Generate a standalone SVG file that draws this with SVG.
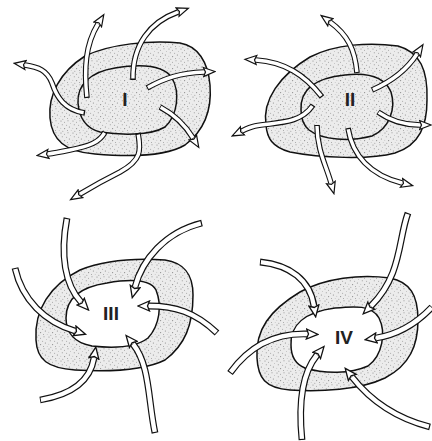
<svg xmlns="http://www.w3.org/2000/svg" width="432" height="441" viewBox="0 0 432 441">
<style>
.bg{fill:#fff}
.blob{fill:url(#st);stroke:#111;stroke-width:1.5}
.hole{fill:#fff;stroke:#111;stroke-width:1.5}
.a{fill:none;stroke:#111;stroke-width:5.6;stroke-linecap:butt}
.b{fill:none;stroke:#fff;stroke-width:3.4;stroke-linecap:butt;stroke-dasharray:0 1.6 98.4;marker-end:url(#h)}
.a2{fill:none;stroke:#111;stroke-width:6.8;stroke-linecap:butt}
.b2{fill:none;stroke:#fff;stroke-width:4.4;stroke-linecap:butt;stroke-dasharray:0 1.2 98.8;marker-end:url(#h2)}
.lbl{font-family:"Liberation Sans Narrow","Liberation Sans",Arial,sans-serif;font-weight:bold;font-size:19px;fill:#222;text-anchor:middle}
</style>
<defs>
<pattern id="st" width="12" height="12" patternUnits="userSpaceOnUse">
<rect width="12" height="12" fill="#ececec"/>
<circle cx="1" cy="1" r="0.6" fill="#8a8a8a"/>
<circle cx="4.5" cy="2.2" r="0.5" fill="#999"/>
<circle cx="8" cy="0.8" r="0.55" fill="#8f8f8f"/>
<circle cx="10.5" cy="3.5" r="0.45" fill="#a0a0a0"/>
<circle cx="2.3" cy="4.8" r="0.55" fill="#8f8f8f"/>
<circle cx="6.6" cy="5.2" r="0.5" fill="#999"/>
<circle cx="9.4" cy="7" r="0.6" fill="#888"/>
<circle cx="0.8" cy="8.2" r="0.45" fill="#a5a5a5"/>
<circle cx="4.6" cy="8.6" r="0.6" fill="#8a8a8a"/>
<circle cx="7.5" cy="10.5" r="0.5" fill="#999"/>
<circle cx="11.2" cy="10.4" r="0.45" fill="#a0a0a0"/>
<circle cx="2.8" cy="11.2" r="0.5" fill="#949494"/>
</pattern>
<marker id="h" markerUnits="userSpaceOnUse" viewBox="0 0 14 12" markerWidth="14" markerHeight="12" refX="1.5" refY="6" orient="auto">
<polygon points="1,1.5 12.5,6 1,10.5 3,6" fill="#fff" stroke="#111" stroke-width="1.2" stroke-linejoin="miter"/>
</marker>
<marker id="h2" markerUnits="userSpaceOnUse" viewBox="0 0 14 12" markerWidth="14" markerHeight="12" refX="1.5" refY="6" orient="auto">
<polygon points="1,1 12.5,6 1,11 3,6" fill="#fff" stroke="#111" stroke-width="1.3" stroke-linejoin="miter"/>
</marker>
</defs>
<rect class="bg" width="432" height="441"/>

<g id="panel-I">
<path class="blob" d="M50,118 C48,95 60,72 85,56 C110,44 150,40 180,43 C198,46 208,62 210,85 C212,110 205,130 185,145 C165,157 130,157 95,154 C65,152 52,140 50,118 Z"/>
<path class="blob" d="M78,103 C77,85 90,72 115,68 C140,64 163,64 172,78 C180,92 178,115 165,127 C150,136 120,135 100,132 C85,128 79,116 78,103 Z"/>
<text class="lbl" x="125" y="106">I</text>
</g>
<g id="panel-II">
<path class="blob" d="M266,125 C262,100 280,75 310,57 C335,44 370,42 398,46 C420,52 428,70 427,100 C427,125 420,145 395,153 C370,160 320,158 290,152 C272,147 267,138 266,125 Z"/>
<path class="blob" d="M301,110 C300,90 315,78 345,75 C370,72 385,78 391,92 C396,108 390,128 372,136 C350,142 322,140 309,130 C302,124 301,117 301,110 Z"/>
<text class="lbl" x="350" y="106">II</text>
</g>
<g id="panel-III">
<path class="blob" d="M36,340 C34,310 50,285 80,270 C105,260 135,258 165,260 C185,263 193,275 193,295 C193,325 185,345 165,360 C145,370 110,372 75,370 C48,368 37,360 36,340 Z"/>
<path class="hole" d="M66,318 C66,298 80,287 107,283 C130,279 150,279 156,290 C162,305 160,325 148,338 C135,348 110,348 92,346 C75,343 66,333 66,318 Z"/>
<text class="lbl" x="111" y="320">III</text>
</g>
<g id="panel-IV">
<path class="blob" d="M257,358 C255,330 270,310 300,292 C325,278 360,274 390,278 C410,282 418,295 418,320 C418,345 410,365 385,378 C360,390 320,392 290,390 C265,388 258,378 257,358 Z"/>
<path class="hole" d="M291,345 C290,325 305,312 335,308 C355,306 372,305 379,318 C386,332 383,355 368,366 C350,374 325,374 305,368 C295,364 291,355 291,345 Z"/>
<text class="lbl" x="344" y="344">IV</text>
</g>

<g id="connectors">
<!-- panel I: outward -->
<path class="a" d="M87,98 C84,70 85,45 98,24"/><path class="b" pathLength="100" d="M87,98 C84,70 85,45 98,24"/>
<path class="a" d="M133,80 C132,45 150,22 178,12"/><path class="b" pathLength="100" d="M133,80 C132,45 150,22 178,12"/>
<path class="a" d="M147,88 C165,78 180,73 204,72"/><path class="b" pathLength="100" d="M147,88 C165,78 180,73 204,72"/>
<path class="a" d="M160,107 C175,115 185,125 193,138"/><path class="b" pathLength="100" d="M160,107 C175,115 185,125 193,138"/>
<path class="a" d="M138,133 C141,150 142,160 120,172 C100,182 90,188 80,194"/><path class="b" pathLength="100" d="M138,133 C141,150 142,160 120,172 C100,182 90,188 80,194"/>
<path class="a" d="M105,132 C100,142 90,146 70,150 C60,152 55,153 48,154"/><path class="b" pathLength="100" d="M105,132 C100,142 90,146 70,150 C60,152 55,153 48,154"/>
<path class="a" d="M85,113 C65,110 57,98 52,83 C47,70 38,67 25,65"/><path class="b" pathLength="100" d="M85,113 C65,110 57,98 52,83 C47,70 38,67 25,65"/>
<!-- panel II: outward -->
<path class="a" d="M357,73 C355,50 348,35 330,22"/><path class="b" pathLength="100" d="M357,73 C355,50 348,35 330,22"/>
<path class="a" d="M372,90 C395,80 408,68 417,54"/><path class="b" pathLength="100" d="M372,90 C395,80 408,68 417,54"/>
<path class="a" d="M378,112 C392,122 405,125 420,125"/><path class="b" pathLength="100" d="M378,112 C392,122 405,125 420,125"/>
<path class="a" d="M348,128 C352,155 370,175 402,183"/><path class="b" pathLength="100" d="M348,128 C352,155 370,175 402,183"/>
<path class="a" d="M317,125 C317,150 326,165 331,183"/><path class="b" pathLength="100" d="M317,125 C317,150 326,165 331,183"/>
<path class="a" d="M313,105 C300,125 275,122 255,126 C250,127 246,129 242,131"/><path class="b" pathLength="100" d="M313,105 C300,125 275,122 255,126 C250,127 246,129 242,131"/>
<path class="a" d="M322,97 C305,75 285,62 256,60"/><path class="b" pathLength="100" d="M322,97 C305,75 285,62 256,60"/>
<!-- panel III: inward -->
<path class="a2" d="M67,218 C60,255 65,285 81,302"/><path class="b2" pathLength="100" d="M67,218 C60,255 65,285 81,302"/>
<path class="a2" d="M15,268 C22,300 45,322 75,331"/><path class="b2" pathLength="100" d="M15,268 C22,300 45,322 75,331"/>
<path class="a2" d="M40,400 C70,395 90,382 94,358"/><path class="b2" pathLength="100" d="M40,400 C70,395 90,382 94,358"/>
<path class="a2" d="M155,433 C148,400 150,365 133,344"/><path class="b2" pathLength="100" d="M155,433 C148,400 150,365 133,344"/>
<path class="a2" d="M217,333 C195,312 175,306 149,306"/><path class="b2" pathLength="100" d="M217,333 C195,312 175,306 149,306"/>
<path class="a2" d="M202,223 C165,232 142,260 135,287"/><path class="b2" pathLength="100" d="M202,223 C165,232 142,260 135,287"/>
<!-- panel IV: inward -->
<path class="a2" d="M260,262 C290,265 310,280 314,306"/><path class="b2" pathLength="100" d="M260,262 C290,265 310,280 314,306"/>
<path class="a2" d="M230,373 C250,345 275,333 307,334"/><path class="b2" pathLength="100" d="M230,373 C250,345 275,333 307,334"/>
<path class="a2" d="M302,440 C298,400 303,372 317,355"/><path class="b2" pathLength="100" d="M302,440 C298,400 303,372 317,355"/>
<path class="a2" d="M430,427 C395,418 370,400 352,377"/><path class="b2" pathLength="100" d="M430,427 C395,418 370,400 352,377"/>
<path class="a2" d="M432,307 C415,325 395,335 376,338"/><path class="b2" pathLength="100" d="M432,307 C415,325 395,335 376,338"/>
<path class="a2" d="M408,213 C398,240 402,275 371,306"/><path class="b2" pathLength="100" d="M408,213 C398,240 402,275 371,306"/>
</g>
</svg>
